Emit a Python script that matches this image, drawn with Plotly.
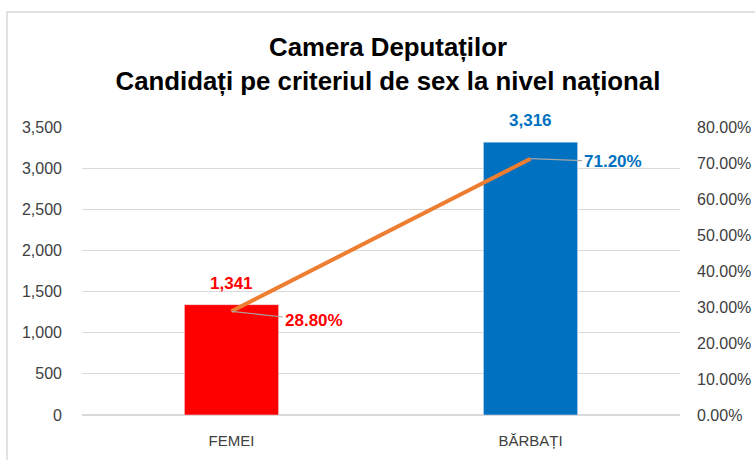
import plotly.graph_objects as go
from plotly.subplots import make_subplots

categories = ["FEMEI", "BĂRBAȚI"]
counts = [1341, 3316]
shares = [0.288, 0.712]
bar_colors = ["#FF0000", "#0070C0"]
count_labels = ["1,341", "3,316"]
share_labels = ["28.80%", "71.20%"]

FONT = "Liberation Sans"
TICK = "#404040"

fig = make_subplots(specs=[[{"secondary_y": True}]])

fig.add_trace(go.Bar(
    x=categories, y=counts, marker_color=bar_colors, width=0.315,
    hoverinfo="skip", showlegend=False,
), secondary_y=False)

fig.add_trace(go.Scatter(
    x=categories, y=shares, mode="lines",
    line=dict(color="#ED7D31", width=4), showlegend=False, hoverinfo="skip",
), secondary_y=True)

for c, v, lab, col in zip(categories, counts, count_labels, bar_colors):
    fig.add_annotation(
        x=c, y=v, xref="x", yref="y", text="<b>%s</b>" % lab,
        showarrow=False, xanchor="center", yanchor="bottom", yshift=10,
        font=dict(family=FONT, size=17, color=col),
    )

for c, s, lab, col, dy in zip(categories, shares, share_labels, bar_colors, [9, 3]):
    fig.add_annotation(
        x=c, y=s, xref="x", yref="y2", text="<b>%s</b>" % lab,
        showarrow=True, arrowhead=0, arrowwidth=1.2, arrowcolor="#A6A6A6",
        ax=82, ay=dy, xanchor="center", yanchor="middle",
        font=dict(family=FONT, size=17, color=col),
    )

# chart border
fig.add_shape(type="rect", xref="paper", yref="paper",
              x0=-0.1254, x1=1.2, y0=-0.3, y1=1.399,
              line=dict(color="#D9D9D9", width=1.5), layer="below")

fig.update_layout(
    width=755, height=460,
    margin=dict(l=82, r=75, t=127, b=45, autoexpand=False),
    paper_bgcolor="white", plot_bgcolor="white",
    title=dict(text="<b>Camera Deputaților<br>Candidați pe criteriul de sex la nivel național</b>",
               x=0.5139, xanchor="center", y=0.8783, yanchor="top",
               font=dict(family=FONT, size=25.8, color="#000000")),
    font=dict(family=FONT, color=TICK, size=15),
)
fig.update_xaxes(domain=[0, 1], showgrid=False, showline=False, ticks="", automargin=False,
                 ticklabelstandoff=15,
                 tickfont=dict(family=FONT, size=15, color=TICK))
fig.update_yaxes(range=[0, 3500], dtick=500, tickformat=",", showgrid=True,
                 gridcolor="#D9D9D9", gridwidth=1, zeroline=True, zerolinecolor="#D9D9D9",
                 showline=False, ticks="", ticklabelstandoff=19, automargin=False,
                 tickfont=dict(family=FONT, size=16, color=TICK), secondary_y=False)
fig.update_yaxes(range=[0, 0.8], dtick=0.1, tickformat=".2%", showgrid=False,
                 zeroline=False, showline=False, ticks="", ticklabelstandoff=16, automargin=False,
                 tickfont=dict(family=FONT, size=16, color=TICK), secondary_y=True)

fig.write_html(
    "out.html",
    config={"displayModeBar": False},
    post_script="document.body.style.margin='0';document.body.style.overflow='hidden';",
)
